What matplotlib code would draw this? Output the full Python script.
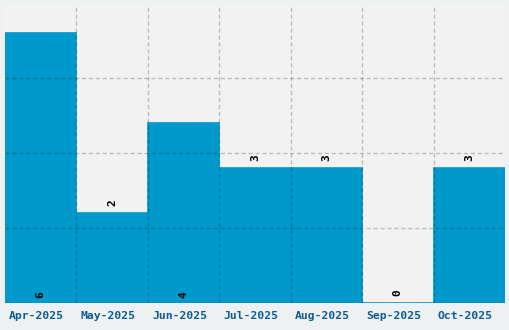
import numpy as np
import matplotlib
matplotlib.use("Agg")
import matplotlib.pyplot as plt

# monthly counts
months = ["Apr-2025", "May-2025", "Jun-2025", "Jul-2025", "Aug-2025", "Sep-2025", "Oct-2025"]
counts = [6, 2, 4, 3, 3, 0, 3]

BAR = "#0099cc"
TICK = "#0d5c94"
PLOT_BG = "#f2f2f2"
FIG_BG = "#eef1f2"

fig = plt.figure(figsize=(5.1, 3.3), dpi=100, facecolor=FIG_BG)
ax = fig.add_axes([5 / 510, 27 / 330, 500 / 510, 298 / 330])
ax.set_facecolor(PLOT_BG)

x = np.arange(len(months))
ax.bar(x, counts, width=1.0, color=BAR, edgecolor=BAR, linewidth=1.2, zorder=2)

ymax = 6.62
ax.set_xlim(-0.5, len(months) - 0.5)
ax.set_ylim(0, ymax)

# value labels, inside at the bottom for tall bars
for xi, v in zip(x, counts):
    y = 0.1 if v >= 4 else v + 0.15
    ax.text(xi, y, str(v), rotation=90, ha="center", va="bottom",
            family="DejaVu Sans Mono", fontweight="bold", fontsize=8,
            color="black", zorder=4)

# month labels sit a few pixels left of the bar centres
ax.set_xticks(x - 0.056)
ax.set_xticklabels(months, family="DejaVu Sans Mono", fontweight="bold",
                   fontsize=8.2, color=TICK)
ax.set_xticks(np.arange(0.5, len(months) - 1, 1.0), minor=True)
ax.set_yticks(np.arange(0, ymax, 5 / 3))
ax.set_yticklabels([])
ax.tick_params(axis="both", which="both", length=0, pad=6)

ax.grid(True, which="minor", axis="x", color="black", alpha=0.22,
        linestyle=(0, (3, 2)), linewidth=1, zorder=3)
ax.grid(True, which="major", axis="y", color="black", alpha=0.22,
        linestyle=(0, (3, 2)), linewidth=1, zorder=3)
ax.set_axisbelow(False)
for s in ax.spines.values():
    s.set_visible(False)

fig.savefig("out.png", dpi=100, facecolor=FIG_BG)
